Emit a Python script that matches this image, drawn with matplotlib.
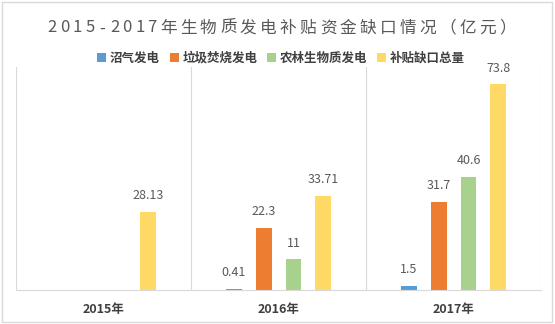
import numpy as np
import matplotlib.pyplot as plt
from matplotlib.patches import Rectangle

plt.rcParams['font.family'] = ['Noto Sans CJK SC', 'DejaVu Sans']

title = '2015-2017年生物质发电补贴资金缺口情况（亿元）'
years = ['2015年', '2016年', '2017年']
series = ['沼气发电', '垃圾焚烧发电', '农林生物质发电', '补贴缺口总量']
biogas = [np.nan, 0.41, 1.5]
waste = [np.nan, 22.3, 31.7]
agri = [np.nan, 11, 40.6]
total = [28.13, 33.71, 73.8]
labels = [['', '0.41', '1.5'], ['', '22.3', '31.7'], ['', '11', '40.6'], ['28.13', '33.71', '73.8']]
colors = ['#5B9BD5', '#ED7D31', '#A9D18E', '#FFD966']

W, H = 555, 324
fig = plt.figure(figsize=(W / 100, H / 100), dpi=100)
ax = fig.add_axes([16 / W, 1 - 290 / H, 525 / W, 223 / H])

x = np.arange(len(years))
width = 0.091
step = 0.171
for i, vals in enumerate([biogas, waste, agri, total]):
    pos = x + (i - 1.5) * step
    ax.bar(pos, vals, width, color=colors[i], label=series[i])
    for p, v, t in zip(pos, vals, labels[i]):
        if t:
            ax.text(p, v + 3.5, t, ha='center', va='bottom', fontsize=9, color='#595959')

for b in [-0.5, 0.5, 1.5, 2.5]:
    ax.axvline(b, color='#D9D9D9', lw=0.8)

ax.set_xlim(-0.5, 2.5)
ax.set_ylim(0, 80)
ax.set_yticks([])
ax.set_xticks(x)
ax.set_xticklabels(years, fontsize=9, fontweight='bold', color='#404040')
ax.tick_params(axis='x', length=0, pad=9)
for s in ['top', 'left', 'right']:
    ax.spines[s].set_visible(False)
ax.spines['bottom'].set_color('#D9D9D9')

# title with letter spacing, one character at a time
fs = 12
em = fs * 100 / 72
gap = 3.3
adv = [(0.55 if ord(c) < 256 else 1.0) * em + gap for c in title]
xpos = 282 - sum(adv) / 2
for c, a in zip(title, adv):
    fig.text((xpos + a / 2) / W, 1 - 28 / H, c, ha='center', va='center',
             fontsize=fs, color='#595959')
    xpos += a

leg = fig.legend(loc='center', bbox_to_anchor=(281 / W, 1 - 58 / H), ncol=4, frameon=False,
                 handlelength=0.7, handleheight=0.7, handletextpad=0.3, columnspacing=0.8,
                 prop={'weight': 'bold', 'size': 9})
for t in leg.get_texts():
    t.set_color('#404040')

fig.patches.append(Rectangle((2 / W, 2 / H), 550 / W, 320 / H, transform=fig.transFigure,
                             fill=False, edgecolor='#D9D9D9', lw=1))

fig.savefig('out.png', dpi=100)
